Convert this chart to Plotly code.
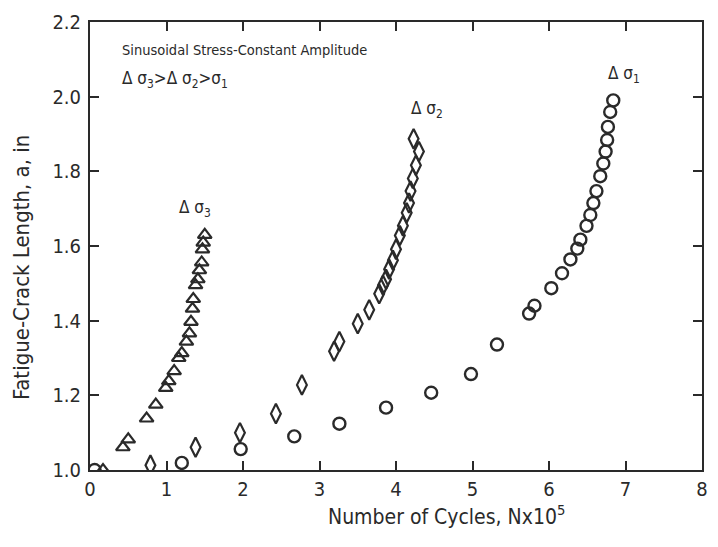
import plotly.graph_objects as go

# Δσ3 (triangles)
tri_x = [0.17, 0.43, 0.50, 0.74, 0.86, 0.99, 1.03, 1.10, 1.16, 1.20, 1.26, 1.30, 1.32, 1.34, 1.35, 1.38, 1.41, 1.43, 1.46, 1.47, 1.48, 1.50]
tri_y = [1.00, 1.061, 1.082, 1.138, 1.175, 1.22, 1.238, 1.265, 1.30, 1.313, 1.344, 1.366, 1.397, 1.432, 1.458, 1.495, 1.511, 1.535, 1.556, 1.591, 1.609, 1.63]

# Δσ2 (diamonds)
dia_x = [0.79, 1.38, 1.96, 2.43, 2.77, 3.19, 3.26, 3.50, 3.65, 3.78, 3.83, 3.87, 3.91, 3.96, 4.00, 4.05, 4.09, 4.14, 4.17, 4.19, 4.22, 4.26, 4.30, 4.23]
dia_y = [1.013, 1.061, 1.10, 1.151, 1.228, 1.318, 1.344, 1.392, 1.429, 1.472, 1.495, 1.511, 1.538, 1.562, 1.591, 1.628, 1.654, 1.689, 1.715, 1.747, 1.781, 1.816, 1.853, 1.887]

# Δσ1 (circles)
cir_x = [0.06, 1.20, 1.97, 2.67, 3.26, 3.87, 4.46, 4.98, 5.32, 5.74, 5.81, 6.03, 6.17, 6.28, 6.37, 6.41, 6.49, 6.54, 6.58, 6.62, 6.67, 6.71, 6.74, 6.76, 6.77, 6.80, 6.84]
cir_y = [1.00, 1.019, 1.056, 1.09, 1.124, 1.167, 1.207, 1.257, 1.336, 1.419, 1.44, 1.487, 1.527, 1.564, 1.593, 1.617, 1.654, 1.683, 1.715, 1.747, 1.787, 1.821, 1.853, 1.884, 1.919, 1.959, 1.99]

x_ticks = [0, 1, 2, 3, 4, 5, 6, 7, 8]
y_ticks = [1.0, 1.2, 1.4, 1.6, 1.8, 2.0, 2.2]

FONT = "DejaVu Sans Condensed, Liberation Sans Narrow, Liberation Sans, Arial"
INK = "#2a2a2a"

fig = go.Figure()
fig.add_trace(go.Scatter(x=tri_x, y=tri_y, mode="markers",
                         marker=dict(symbol="triangle-up-open", size=12, color=INK, line=dict(width=2.2)),
                         showlegend=False))
fig.add_trace(go.Scatter(x=dia_x, y=dia_y, mode="markers",
                         marker=dict(symbol="diamond-tall-open", size=14, color=INK, line=dict(width=2.2)),
                         showlegend=False))
fig.add_trace(go.Scatter(x=cir_x, y=cir_y, mode="markers",
                         marker=dict(symbol="circle-open", size=12, color=INK, line=dict(width=2.4)),
                         showlegend=False))

ann = dict(showarrow=False, font=dict(family=FONT, size=17, color=INK))
fig.add_annotation(x=0.39, y=2.126, xanchor="left", text="Sinusoidal Stress-Constant Amplitude",
                   showarrow=False, font=dict(family=FONT, size=14.5, color=INK))
fig.add_annotation(x=0.39, y=2.046, xanchor="left", text="Δ σ<sub>3</sub>>Δ σ<sub>2</sub>>σ<sub>1</sub>",
                   showarrow=False, font=dict(family=FONT, size=17, color=INK))
fig.add_annotation(x=1.37, y=1.70, text="Δ σ<sub>3</sub>", **ann)
fig.add_annotation(x=4.41, y=1.965, text="Δ σ<sub>2</sub>", **ann)
fig.add_annotation(x=6.98, y=2.06, text="Δ σ<sub>1</sub>", **ann)

# axis titles (placed as in the reference, slightly off-centre)
fig.add_annotation(xref="paper", yref="paper", x=0.582, y=-0.10, yanchor="middle",
                   text="Number of Cycles, Nx10<sup>5</sup>", showarrow=False,
                   font=dict(family=FONT, size=21, color=INK))
fig.add_annotation(xref="paper", yref="paper", x=-0.113, y=0.4525, xanchor="center", yanchor="middle",
                   textangle=-90, text="Fatigue-Crack Length, a, in", showarrow=False,
                   font=dict(family=FONT, size=22, color=INK))

axis_common = dict(showgrid=False, zeroline=False, showline=True, linecolor=INK, linewidth=2,
                   mirror="ticks", ticks="inside", ticklen=9, tickwidth=2, tickcolor=INK,
                   tickfont=dict(family=FONT, size=20, color=INK))
fig.update_xaxes(range=[0, 8], tickvals=x_ticks, ticktext=[str(v) for v in x_ticks], **axis_common)
fig.update_yaxes(range=[1.0, 2.2], tickvals=y_ticks, ticktext=[f"{v:.1f}" for v in y_ticks],
                 ticklabelstandoff=3, **axis_common)
fig.update_layout(width=718, height=547, margin=dict(l=90, r=10, t=17, b=77),
                  paper_bgcolor="white", plot_bgcolor="white")
fig.write_html("out.html", config={"displayModeBar": False},
               post_script="document.body.style.margin='0';")
